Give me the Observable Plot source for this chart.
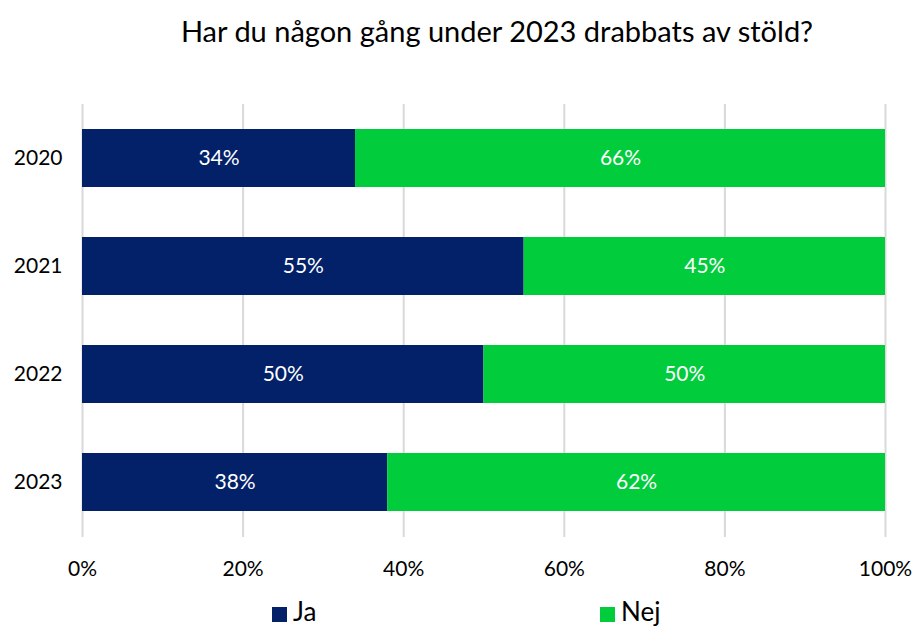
<!DOCTYPE html>
<html>
<head>
<meta charset="utf-8">
<script src="https://cdn.jsdelivr.net/npm/d3@7"></script>
<script src="https://cdn.jsdelivr.net/npm/@observablehq/plot@0.6"></script>
<style>
  body { margin: 0; background: #fff; font-family: Lato, "Open Sans", sans-serif; }
  #wrap { position: relative; width: 914px; height: 628px; }
  #title { position: absolute; left: 0; top: 13px; width: 994px; text-align: center; font-size: 29px; color: #000; }
  #chart { position: absolute; left: 0; top: 60px; }
  .leg { position: absolute; top: 595px; font-size: 26px; color: #000; display: flex; align-items: center; }
  .sw { width: 15px; height: 15px; margin-right: 6px; margin-top: 6px; }
</style>
</head>
<body>
<div id="wrap">
  <div id="title">Har du någon gång under 2023 drabbats av stöld?</div>
  <div id="chart"></div>
  <div class="leg" style="left:272px"><div class="sw" style="background:#022169"></div>Ja</div>
  <div class="leg" style="left:600px"><div class="sw" style="background:#00CC3C"></div>Nej</div>
</div>
<script>
const years = ["2020", "2021", "2022", "2023"];
const ja = [34, 55, 50, 38];
const nej = [66, 45, 50, 62];
const answers = ["Ja", "Nej"];
const colors = ["#022169", "#00CC3C"];
const xTicks = [0, 20, 40, 60, 80, 100];

const data = [];
years.forEach((y, i) => {
  data.push({year: y, answer: "Ja", value: ja[i]});
  data.push({year: y, answer: "Nej", value: nej[i]});
});

const plot = Plot.plot({
  width: 914,
  height: 530,
  marginLeft: 82,
  marginRight: 29,
  marginTop: 44,
  marginBottom: 53,
  style: {fontFamily: "Lato, 'Open Sans', sans-serif", fontSize: "21px", color: "#000"},
  x: {domain: [0, 100], label: null},
  y: {domain: years, paddingInner: 0.46, paddingOuter: 0.23, label: null},
  color: {domain: answers, range: colors},
  marks: [
    Plot.gridX(xTicks, {stroke: "#d9d9d9", strokeOpacity: 1, strokeWidth: 2}),
    Plot.barX(data, Plot.stackX({x: "value", y: "year", fill: "answer", z: "answer", order: answers})),
    Plot.text(data, Plot.stackX({x: "value", y: "year", z: "answer", order: answers, text: d => d.value + "%", fill: "white", fontSize: 21})),
    Plot.axisX({ticks: xTicks, tickFormat: d => d + "%", tickSize: 0, tickPadding: 24, fontSize: 21, label: null}),
    Plot.axisY({tickSize: 0, tickPadding: 20, fontSize: 21, label: null})
  ]
});
document.getElementById("chart").appendChild(plot);
</script>
</body>
</html>
